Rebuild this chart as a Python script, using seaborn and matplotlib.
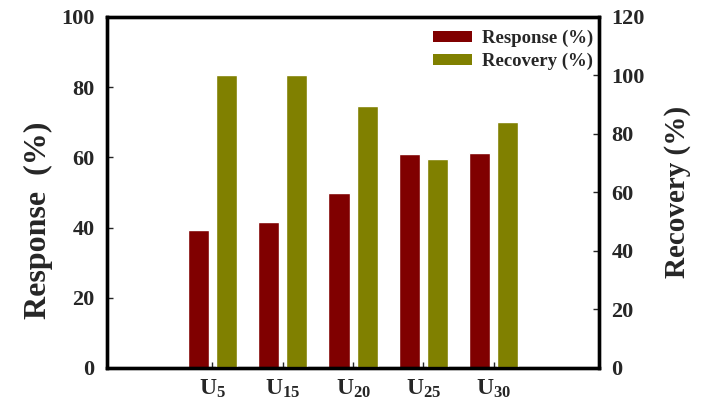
import pandas as pd
import seaborn as sns
import matplotlib.pyplot as plt
from matplotlib.patches import Patch

# values
samples = ["U5", "U15", "U20", "U25", "U30"]
subscripts = ["5", "15", "20", "25", "30"]
response = [39.3, 41.7, 49.9, 60.9, 61.3]   # left axis, %
recovery = [100.0, 100.0, 89.6, 71.5, 84.0]  # right axis, %
metrics = ["Response (%)", "Recovery (%)"]
colors = ["#800000", "#808000"]

df = pd.DataFrame({
    "sample": samples * 2,
    "metric": [metrics[0]] * len(samples) + [metrics[1]] * len(samples),
    "value": response + recovery,
})

# empty slot at both ends, as in the original
order = ["pad_l"] + samples + ["pad_r"]

sns.set_style("ticks")
plt.rcParams["font.family"] = ["Liberation Serif", "DejaVu Serif"]
plt.rcParams["font.weight"] = "bold"
plt.rcParams["mathtext.fontset"] = "custom"
plt.rcParams["mathtext.rm"] = "Liberation Serif:bold"
plt.rcParams["mathtext.bf"] = "Liberation Serif:bold"
plt.rcParams["mathtext.it"] = "Liberation Serif:bold"
plt.rcParams["mathtext.default"] = "rm"

fig = plt.figure(figsize=(7.09, 4.12), dpi=100)
ax = fig.add_axes([0.151, 0.107, 0.694, 0.852])
ax2 = ax.twinx()

sns.barplot(data=df[df["metric"] == metrics[0]], x="sample", y="value",
            hue="metric", hue_order=metrics, order=order, palette=colors,
            width=0.8, gap=0.25, dodge=True, saturation=1, legend=False, ax=ax)
sns.barplot(data=df[df["metric"] == metrics[1]], x="sample", y="value",
            hue="metric", hue_order=metrics, order=order, palette=colors,
            width=0.8, gap=0.25, dodge=True, saturation=1, legend=False, ax=ax2)

ax.set_xlim(-0.5, len(order) - 0.5)
ax.set_ylim(0, 100)
ax2.set_ylim(0, 120)
ax.set_yticks(range(0, 101, 20))
ax2.set_yticks(range(0, 121, 20))
ax.set_xticks(range(1, len(samples) + 1))
ax.set_xticklabels([f"U$_{{{s}}}$" for s in subscripts], fontsize=17)

ax.set_xlabel("")
ax2.set_xlabel("")
ax.set_ylabel("Response  (%)", fontsize=23, fontweight="bold", labelpad=6)
ax.yaxis.label.set_y(0.42)
ax2.set_ylabel("Recovery (%)", fontsize=21, fontweight="bold", labelpad=14)

for a in (ax, ax2):
    a.tick_params(axis="y", direction="in", length=4, width=1,
                  labelsize=16, pad=9)
    a.tick_params(axis="x", direction="in", length=4, width=1, pad=7)
    for sp in a.spines.values():
        sp.set_linewidth(2.4)
        sp.set_visible(True)
        sp.set_color("black")

handles = [Patch(facecolor=c, edgecolor="none") for c in colors]
ax2.legend(handles, metrics, loc="upper right", frameon=False,
           prop={"size": 13.5, "weight": "bold"}, handlelength=2.1,
           handleheight=0.55, labelspacing=0.3, handletextpad=0.5,
           borderaxespad=0.3, bbox_to_anchor=(1.014, 1.0))

fig.savefig("out.png", dpi=100)
